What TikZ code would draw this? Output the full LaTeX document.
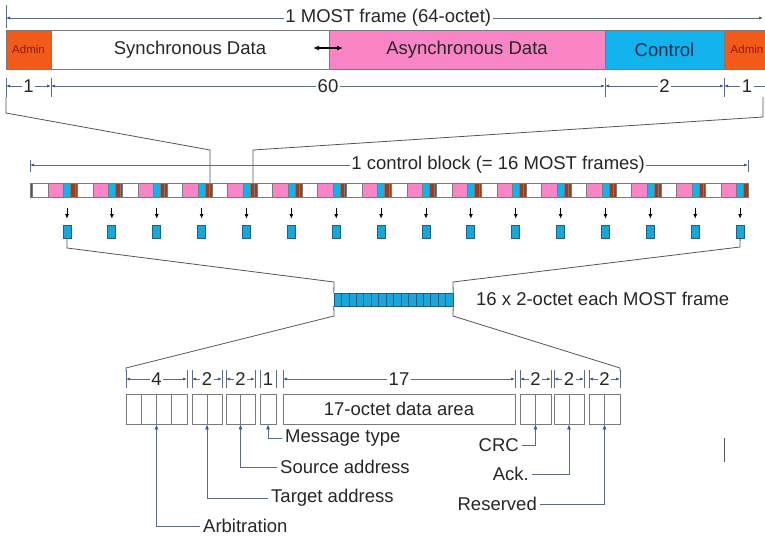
\documentclass[tikz,border=0pt]{standalone}
\usepackage{fontspec}
\setmainfont{Liberation Sans}
\usetikzlibrary{arrows.meta}

\definecolor{admin}{HTML}{F25A1A}
\definecolor{admintext}{HTML}{8A1C10}
\definecolor{asyncpink}{HTML}{F985C6}
\definecolor{ctrlcyan}{HTML}{12B3EC}
\definecolor{ctrltext}{HTML}{1A3050}
\definecolor{ctrlbox}{HTML}{1AA6D8}
\definecolor{ctrledge}{HTML}{1E5F86}
\definecolor{brownbit}{HTML}{9A3E1C}
\definecolor{framegray}{HTML}{7A7A7A}
\definecolor{wedgegray}{HTML}{555555}
\definecolor{dimblue}{HTML}{5A6C8A}
\definecolor{tipblue}{HTML}{34589A}
\definecolor{txt}{HTML}{262626}

\newcommand{\bigfont}{\fontsize{18.5}{22}\selectfont}
\newcommand{\adminfont}{\fontsize{11.5}{13}\selectfont}

\begin{document}
\begin{tikzpicture}[x=1pt,y=-1pt]
    \tikzstyle{seg}=[draw=framegray,line width=0.8pt,minimum height=39pt,inner sep=0pt,text=txt,font=\bigfont]
    \tikzstyle{cell}=[draw=framegray,line width=0.8pt,minimum height=30pt,inner sep=0pt,text=txt,font=\bigfont]
    \tikzstyle{cbox}=[draw=ctrledge,fill=ctrlbox,line width=0.8pt,minimum width=8pt,minimum height=13pt,inner sep=0pt]
    \tikzstyle{piece}=[draw=framegray,line width=0.4pt]
    \tikzstyle{tick}=[draw=dimblue,line width=0.7pt]
    \tikzstyle{dimline}=[draw=dimblue,line width=0.7pt,{Latex[length=4pt,width=3pt,color=tipblue]}-{Latex[length=4pt,width=3pt,color=tipblue]}]
    \tikzstyle{dimlabel}=[fill=white,inner sep=1.5pt,text=txt,font=\bigfont]
    \tikzstyle{wedge}=[draw=wedgegray,line width=0.8pt]
    \tikzstyle{down}=[draw=black,line width=0.8pt,-{Latex[length=4.5pt,width=4pt]}]
    \tikzstyle{lead}=[draw=dimblue,line width=0.8pt,-{Latex[length=5pt,width=4pt,color=tipblue]}]
    \tikzstyle{leadtext}=[inner sep=3pt,text=txt,font=\bigfont]

    \useasboundingbox (0,0) rectangle (765,536);

    % one MOST frame
    \node[seg,fill=admin,minimum width=45pt,text=admintext,font=\adminfont] (adm1) at (28.5,49.5) {Admin};
    \node[seg,minimum width=278pt] (sync) at (190,49.5) {Synchronous Data};
    \node[seg,fill=asyncpink,minimum width=276pt] (async) at (467,49.5) {Asynchronous Data};
    \node[seg,fill=ctrlcyan,minimum width=119pt,text=ctrltext] (ctrl) at (664.5,49.5) {Control};
    \node[seg,fill=admin,minimum width=46pt,text=admintext,font=\adminfont] (adm2) at (747,49.5) {Admin};

    \coordinate (sw1) at (313,48);
    \coordinate (sw2) at (343,48);
    \draw[line width=1.2pt,{Latex[length=6pt,width=5pt]}-{Latex[length=6pt,width=5pt]}] (sw1) -- (sw2);

    % dimensions of the frame
    \draw[tick] (6,5) -- (6,28);
    \draw[dimline] (6,18) -- (763,18) node[dimlabel,pos=0.505] (dframe) {1 MOST frame (64-octet)};
    \foreach \a/\b/\t in {6/51/1, 51/605/60, 605/724/2, 724/770/1} {
        \draw[tick] (\a,78) -- (\a,97);
        \draw[dimline] (\a,86) -- (\b,86) node[dimlabel,pos=0.5] (d\a) {\t};
    }

    % zoom to one frame of the control block
    \draw[wedge] (6,97) -- (6,113) -- (210,150) -- (210,183);
    \draw[wedge] (763,97) -- (763,117) -- (253,150) -- (253,183);

    % control block of 16 frames
    \draw[tick] (30,160) -- (30,172);
    \draw[tick] (748,160) -- (748,172);
    \draw[dimline] (30,165) -- (748,165) node[dimlabel,pos=0.652] (dblock) {1 control block (= 16 MOST frames)};
    \foreach \k in {0,...,15} {
        \pgfmathsetmacro\xo{30+44.875*\k}
        \filldraw[piece,fill=brownbit] (\xo,183) rectangle ++(2.5,14);
        \filldraw[piece,fill=asyncpink] (\xo+18,183) rectangle ++(15.5,14);
        \filldraw[piece,fill=ctrlcyan] (\xo+33.5,183) rectangle ++(7,14);
        \filldraw[piece,fill=brownbit] (\xo+40.5,183) rectangle ++(4.4,14);
        \node[cbox] (cb\k) at (\xo+37,231.5) {};
        \draw[down] ([yshift=17pt]cb\k.north) -- ([yshift=6pt]cb\k.north);
    }
    \node[draw=framegray,line width=0.8pt,minimum width=718pt,minimum height=14pt,inner sep=0pt] (cblock) at (389,190) {};

    % collected control octets
    \foreach \i in {0,...,15}
        \draw[draw=ctrledge,fill=ctrlbox,line width=0.6pt] (334+7.4375*\i,293) rectangle ++(7.4375,13);
    \node[minimum width=119pt,minimum height=13pt,inner sep=0pt] (cbar) at (393.5,299.5) {};
    \node[anchor=west,inner sep=0pt,text=txt,font=\bigfont] (cnote) at (476,299) {16 x 2-octet each MOST frame};

    \draw[wedge] (cb0.south) -- (67,248) -- (334,282) -- (cbar.north west);
    \draw[wedge] (cb15.south) -- (740,247) -- (453,282) -- (cbar.north east);
    \draw[wedge] (cbar.south west) -- (334,316) -- (126,368) -- (126,371);
    \draw[wedge] (cbar.south east) -- (453,316) -- (620,368) -- (620,371);

    % control message fields
    \node[cell,minimum width=61pt] (fa) at (156.5,409) {};
    \node[cell,minimum width=30pt] (ft) at (207,409) {};
    \node[cell,minimum width=29pt] (fs) at (240.5,409) {};
    \node[cell,minimum width=16pt] (fm) at (268,409) {};
    \node[cell,minimum width=232pt] (fd) at (399,409) {17-octet data area};
    \node[cell,minimum width=31pt] (fc) at (535.5,409) {};
    \node[cell,minimum width=30pt] (fk) at (569,409) {};
    \node[cell,minimum width=31pt] (fr) at (604.5,409) {};
    \foreach \x in {141.25,156.5,171.75,207,240.5,535.5,569,604.5}
        \draw[draw=framegray,line width=0.8pt] (\x,394) -- (\x,424);

    \foreach \a/\b/\t in {126/187/4, 192/222/2, 226/255/2, 260/276/1, 283/515/17, 520/551/2, 554/584/2, 589/620/2} {
        \draw[tick] (\a,370) -- (\a,388);
        \draw[tick] (\b,370) -- (\b,388);
        \draw[dimline] (\a,379) -- (\b,379) node[dimlabel,pos=0.5] (f\a) {\t};
    }

    % field names
    \node[leadtext,anchor=west] (larb) at (200,526) {Arbitration};
    \node[leadtext,anchor=west] (ltgt) at (268,498) {Target address};
    \node[leadtext,anchor=west] (lsrc) at (277,467) {Source address};
    \node[leadtext,anchor=west] (lmsg) at (282,438) {Message type};
    \node[leadtext,anchor=east] (lcrc) at (522,445) {CRC};
    \node[leadtext,anchor=east] (lack) at (532,474) {Ack.};
    \node[leadtext,anchor=east] (lrsv) at (540,504) {Reserved};

    \draw[lead] (larb.west) -| (fa.south);
    \draw[lead] (ltgt.west) -| (ft.south);
    \draw[lead] (lsrc.west) -| (fs.south);
    \draw[lead] (lmsg.west) -| (fm.south);
    \draw[lead] (lcrc.east) -| (fc.south);
    \draw[lead] (lack.east) -| (fk.south);
    \draw[lead] (lrsv.east) -| (fr.south);

    \coordinate (mk) at (724,438);
    \draw[draw=wedgegray,line width=1pt] (mk) -- ++(0,24);
\end{tikzpicture}
\end{document}
